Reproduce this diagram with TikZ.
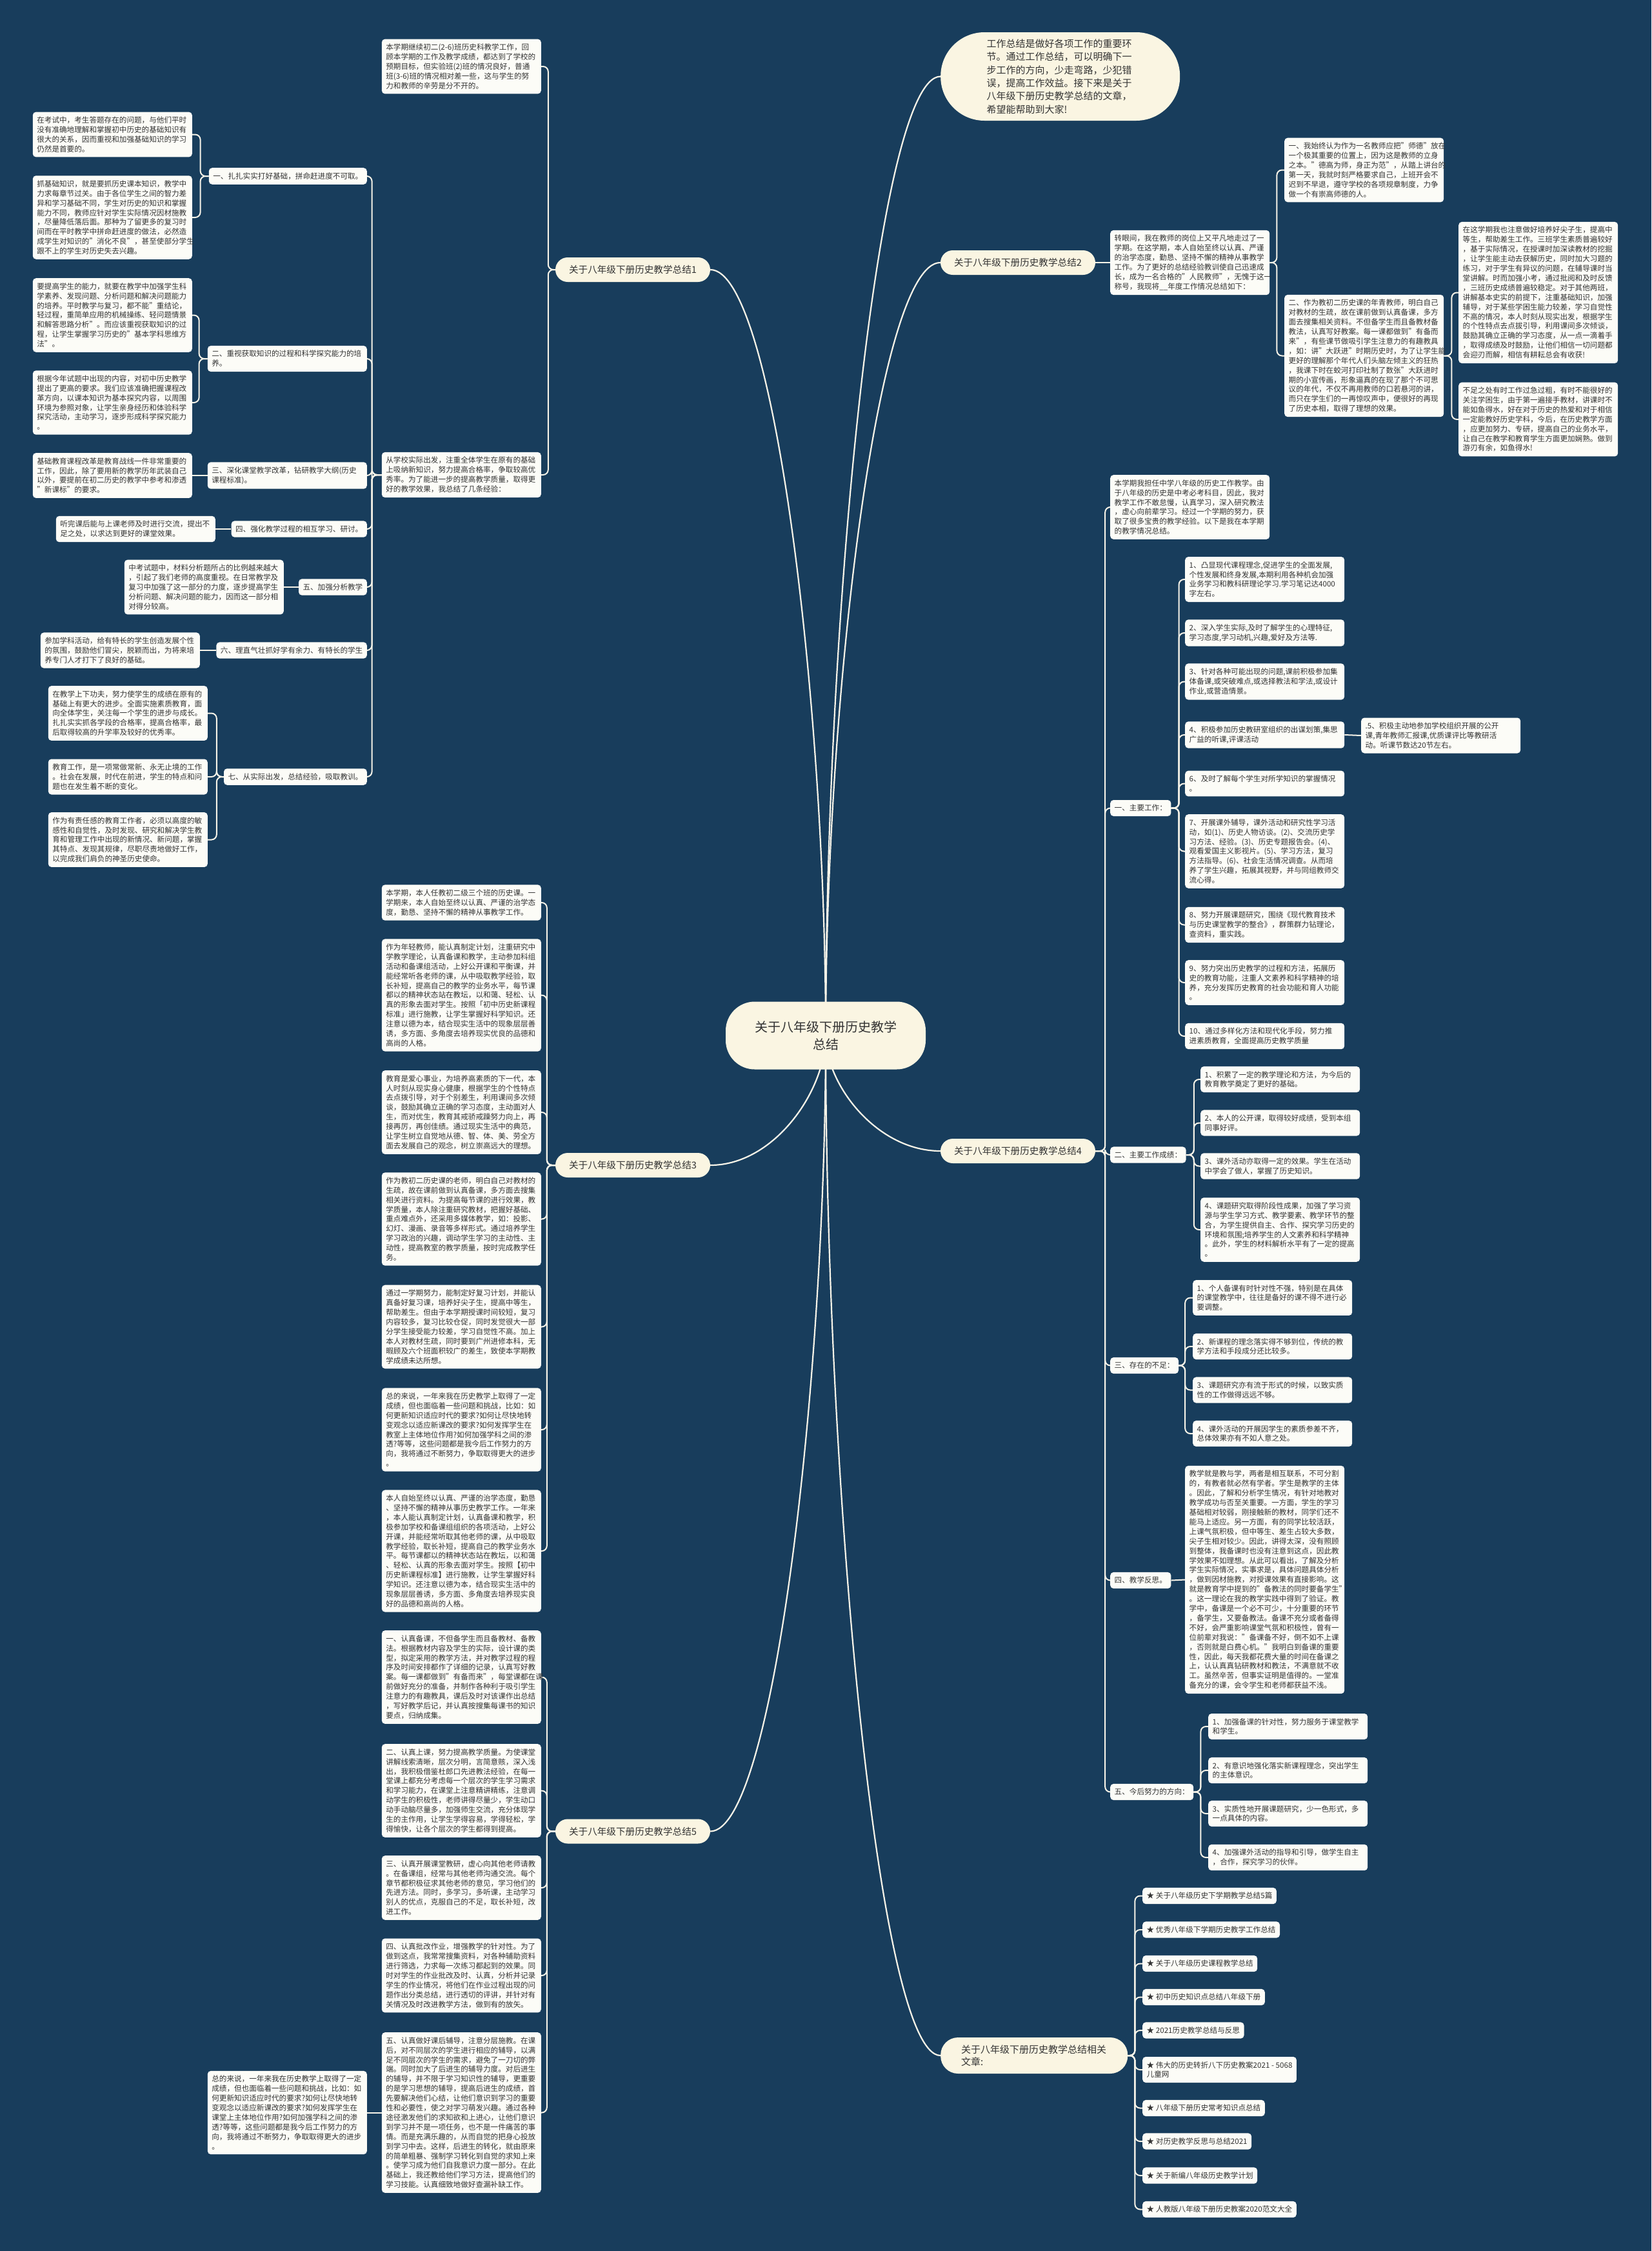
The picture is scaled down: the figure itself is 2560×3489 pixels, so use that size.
\documentclass[tikz,border=0pt]{standalone}
\usepackage{fontspec}
\setmainfont{Noto Sans CJK SC}
\definecolor{bgc}{RGB}{24,61,92}
\definecolor{boxc}{RGB}{252,252,247}
\definecolor{labc}{RGB}{250,245,226}
\definecolor{txtc}{RGB}{51,51,51}
\definecolor{linec}{RGB}{246,243,232}
\pgfdeclarelayer{bgl}
\pgfdeclarelayer{lnl}
\pgfsetlayers{bgl,lnl,main}
\tikzset{
  conn/.style={draw=linec, line width=2pt, rounded corners=8pt},
  curve/.style={draw=linec, line width=2.2pt},
  tb/.style={fill=boxc, rounded corners=5pt, text=txtc, font=\fontsize{11.6}{14.9}\selectfont, inner xsep=6.5pt, inner ysep=7.2pt, align=left},
  tbw/.style={tb, text width=234pt},
  lab/.style={fill=labc, rounded corners=19pt, text=txtc, font=\fontsize{14.6}{18}\selectfont, minimum height=38pt, minimum width=240pt, inner xsep=10pt},
  cen/.style={fill=labc, rounded corners=45pt, text=txtc, font=\fontsize{20}{27}\selectfont, minimum height=105pt, minimum width=310pt, align=center},
  bub/.style={fill=labc, text=txtc, align=left},
}
\begin{document}
\begin{tikzpicture}[x=1pt,y=-1pt]
\begin{pgfonlayer}{bgl}
\fill[bgc] (0,0) rectangle (2560,3489);
\end{pgfonlayer}
\useasboundingbox (0,0) rectangle (2560,3489);

% ---------- centre ----------
\node[cen] (cen) at (1280,1605) {关于八年级下册历史教学\\总结};

% ---------- intro bubble ----------
\node[bub, anchor=west, rounded corners=68pt, minimum width=371pt, minimum height=137pt, text width=228pt, font=\fontsize{15}{20.4}\selectfont] (intro) at (1458,118.5) {工作总结是做好各项工作的重要环\\节。通过工作总结，可以明确下一\\步工作的方向，少走弯路，少犯错\\误，提高工作效益。接下来是关于\\八年级下册历史教学总结的文章，\\希望能帮助到大家!};

% ---------- branch 1 ----------
\node[lab] (b1) at (981,418) {关于八年级下册历史教学总结1};
\node[tbw, anchor=east] (b1t1) at (839,103) {本学期继续初二(2-6)班历史科教学工作，回\\顾本学期的工作及教学成绩，都达到了学校的\\预期目标，但实验班(2)班的情况良好，普通\\班(3-6)班的情况相对差一些，这与学生的努\\力和教师的辛劳是分不开的。};
\node[tbw, anchor=east] (b1t2) at (839,736) {从学校实际出发，注重全体学生在原有的基础\\上吸纳新知识，努力提高合格率，争取较高优\\秀率。为了能进一步的提高教学质量，取得更\\好的教学效果，我总结了几条经验：};

\node[tb, anchor=east] (h11) at (569,273) {一、扎扎实实打好基础，拼命赶进度不可取。};
\node[tbw, anchor=east] (h12) at (569,556) {二、重视获取知识的过程和科学探究能力的培\\养。};
\node[tbw, anchor=east] (h13) at (569,737) {三、深化课堂教学改革，钻研教学大纲(历史\\课程标准)。};
\node[tb, anchor=east] (h14) at (569,820) {四、强化教学过程的相互学习、研讨。};
\node[tb, anchor=east] (h15) at (569,910) {五、加强分析教学};
\node[tb, anchor=east] (h16) at (569,1008) {六、理直气壮抓好学有余力、有特长的学生};
\node[tb, anchor=east] (h17) at (569,1204) {七、从实际出发，总结经验，吸取教训。};

\node[tbw, anchor=east] (l11a) at (298,208.5) {在考试中，考生答题存在的问题，与他们平时\\没有准确地理解和掌握初中历史的基础知识有\\很大的关系，因而重视和加强基础知识的学习\\仍然是首要的。};
\node[tbw, anchor=east] (l11b) at (298,337) {抓基础知识，就是要抓历史课本知识，教学中\\力求每章节过关。由于各位学生之间的智力差\\异和学习基础不同，学生对历史的知识和掌握\\能力不同，教师应针对学生实际情况因材施教\\，尽量降低落后面。那种为了留更多的复习时\\间而在平时教学中拼命赶进度的做法，必然造\\成学生对知识的"消化不良"，甚至使部分学生\\跟不上的学生对历史失去兴趣。};
\node[tbw, anchor=east] (l12a) at (298,488.5) {要提高学生的能力，就要在教学中加强学生科\\学素养、发现问题、分析问题和解决问题能力\\的培养。平时教学与复习，都不能"重结论，\\轻过程，重简单应用的机械操练、轻问题情景\\和解答思路分析"。而应该重视获取知识的过\\程，让学生掌握学习历史的"基本学科思维方\\法"。};
\node[tbw, anchor=east] (l12b) at (298,624) {根据今年试题中出现的内容，对初中历史教学\\提出了更高的要求。我们应该准确把握课程改\\革方向，以课本知识为基本探究内容，以周围\\环境为参照对象，让学生亲身经历和体验科学\\探究活动，主动学习，逐步形成科学探究能力\\。};
\node[tbw, anchor=east] (l13) at (298,737) {基础教育课程改革是教育战线一件非常重要的\\工作，因此，除了要用新的教学历年武装自己\\以外，要提前在初二历史的教学中参考和渗透\\"新课标"的要求。};
\node[tbw, anchor=east] (l14) at (334,820) {听完课后能与上课老师及时进行交流，提出不\\足之处，以求达到更好的课堂效果。};
\node[tbw, anchor=east] (l15) at (440,910) {中考试题中，材料分析题所占的比例越来越大\\，引起了我们老师的高度重视。在日常教学及\\复习中加强了这一部分的力度，逐步提高学生\\分析问题、解决问题的能力，因而这一部分相\\对得分较高。};
\node[tbw, anchor=east] (l16) at (310,1008) {参加学科活动，给有特长的学生创造发展个性\\的氛围，鼓励他们冒尖，脱颖而出，为将来培\\养专门人才打下了良好的基础。};
\node[tbw, anchor=east] (l17a) at (322,1105.5) {在教学上下功夫，努力使学生的成绩在原有的\\基础上有更大的进步。全面实施素质教育，面\\向全体学生，关注每一个学生的进步与成长。\\扎扎实实抓各学段的合格率，提高合格率，最\\后取得较高的升学率及较好的优秀率。};
\node[tbw, anchor=east] (l17b) at (322,1204) {教育工作，是一项常做常新、永无止境的工作\\。社会在发展，时代在前进，学生的特点和问\\题也在发生着不断的变化。};
\node[tbw, anchor=east] (l17c) at (322,1301.5) {作为有责任感的教育工作者，必须以高度的敏\\感性和自觉性，及时发现、研究和解决学生教\\育和管理工作中出现的新情况、新问题，掌握\\其特点、发现其规律，尽职尽责地做好工作，\\以完成我们肩负的神圣历史使命。};

% ---------- branch 2 ----------
\node[lab] (b2) at (1578,407) {关于八年级下册历史教学总结2};
\node[tbw, anchor=west] (b2t) at (1721,407) {转眼间，我在教师的岗位上又平凡地走过了一\\学期。在这学期，本人自始至终以认真、严谨\\的治学态度，勤恳、坚持不懈的精神从事教学\\工作。为了更好的总结经验教训使自己迅速成\\长，成为一名合格的"人民教师"，无愧于这一\\称号，我现将\_\_年度工作情况总结如下：};
\node[tbw, anchor=west] (b2a) at (1991,263.5) {一、我始终认为作为一名教师应把"师德"放在\\一个极其重要的位置上，因为这是教师的立身\\之本。"德高为师，身正为范"，从踏上讲台的\\第一天，我就时刻严格要求自己，上班开会不\\迟到不早退，遵守学校的各项规章制度，力争\\做一个有崇高师德的人。};
\node[tbw, anchor=west] (b2b) at (1991,551.5) {二、作为教初二历史课的年青教师，明白自己\\对教材的生疏，故在课前做到认真备课，多方\\面去搜集相关资料。不但备学生而且备教材备\\教法，认真写好教案。每一课都做到"有备而\\来"，有些课节做吸引学生注意力的有趣教具\\，如：讲"大跃进"时期历史时，为了让学生能\\更好的理解那个年代人们头脑左倾主义的狂热\\，我课下时在蛟河打印社制了数张"大跃进时\\期的小宣传画，形象逼真的在现了那个不可思\\议的年代，不仅不再用教师的口若悬河的讲，\\而只在学生们的一再惊叹声中，便很好的再现\\了历史本相，取得了理想的效果。};
\node[tbw, anchor=west] (b2b1) at (2261,453.5) {在这学期我也注意做好培养好尖子生，提高中\\等生，帮助差生工作。三班学生素质普遍较好\\，基于实际情况，在授课时加深读教材的挖掘\\，让学生能主动去获解历史，同时加大习题的\\练习，对于学生有异议的问题，在辅导课时当\\堂讲解。时而加强小考，通过批阅和及时反馈\\，三班历史成绩普遍较稳定。对于其他两班，\\讲解基本史实的前提下，注重基础知识，加强\\辅导，对于某些学困生能力较差，学习自觉性\\不高的情况，本人时刻从现实出发，根据学生\\的个性特点去点拔引导，利用课间多次倾谈，\\鼓励其确立正确的学习态度，从一点一滴着手\\，取得成绩及时鼓励，让他们相信一切问题都\\会迎刃而解，相信有耕耘总会有收获!};
\node[tbw, anchor=west] (b2b2) at (2261,650) {不足之处有时工作过急过粗，有时不能很好的\\关注学困生，由于第一遍接手教材，讲课时不\\能如鱼得水，好在对于历史的热爱和对于相信\\一定能教好历史学科，今后，在历史教学方面\\，应更加努力、专研，提高自己的业务水平，\\让自己在教学和教育学生方面更加娴熟。做到\\游刃有余，如鱼得水!};

% ---------- branch 3 ----------
\node[lab] (b3) at (981,1806) {关于八年级下册历史教学总结3};
\node[tbw, anchor=east] (c1) at (839,1399) {本学期，本人任教初二级三个班的历史课。一\\学期来，本人自始至终以认真、严谨的治学态\\度，勤恳、坚持不懈的精神从事教学工作。};
\node[tbw, anchor=east] (c2) at (839,1542.5) {作为年轻教师，能认真制定计划，注重研究中\\学教学理论，认真备课和教学，主动参加科组\\活动和备课组活动，上好公开课和平衡课，并\\能经常听各老师的课，从中吸取教学经验，取\\长补短，提高自己的教学的业务水平，每节课\\都以的精神状态站在教坛，以和蔼、轻松、认\\真的形象去面对学生。按照「初中历史新课程\\标准」进行施教，让学生掌握好科学知识。还\\注意以德为本，结合现实生活中的现象层层善\\诱，多方面、多角度去培养现实优良的品德和\\高尚的人格。};
\node[tbw, anchor=east] (c3) at (839,1724) {教育是爱心事业，为培养高素质的下一代，本\\人时刻从现实身心健康，根据学生的个性特点\\去点拨引导，对于个别差生，利用课间多次倾\\谈，鼓励其确立正确的学习态度，主动面对人\\生，而对优生，教育其戒骄戒躁努力向上，再\\接再厉，再创佳绩。通过现实生活中的典范，\\让学生树立自觉地从德、智、体、美、劳全方\\面去发展自己的观念，树立崇高远大的理想。};
\node[tbw, anchor=east] (c4) at (839,1889.5) {作为教初二历史课的老师，明白自己对教材的\\生疏，故在课前做到认真备课，多方面去搜集\\相关进行资料。为提高每节课的进行效果，教\\学质量，本人除注重研究教材，把握好基础、\\重点难点外，还采用多媒体教学，如：投影、\\幻灯、漫画、录音等多样形式。通过培养学生\\学习政治的兴趣，调动学生学习的主动性、主\\动性，提高教室的教学质量，按时完成教学任\\务。};
\node[tbw, anchor=east] (c5) at (839,2056.5) {通过一学期努力，能制定好复习计划，并能认\\真备好复习课，培养好尖子生，提高中等生，\\帮助差生。但由于本学期授课时间较短，复习\\内容较多，复习比较仓促，同时发觉很大一部\\分学生接受能力较差，学习自觉性不高。加上\\本人对教材生疏，同时要到广州进修本科，无\\暇顾及六个班面积较广的差生，致使本学期教\\学成绩未达所想。};
\node[tbw, anchor=east] (c6) at (839,2216) {总的来说，一年来我在历史教学上取得了一定\\成绩，但也面临着一些问题和挑战，比如：如\\何更新知识适应时代的要求?如何让尽快地转\\变观念以适应新课改的要求?如何发挥学生在\\教室上主体地位作用?如何加强学科之间的渗\\透?等等，这些问题都是我今后工作努力的方\\向，我将通过不断努力，争取取得更大的进步\\。};
\node[tbw, anchor=east] (c7) at (839,2404) {本人自始至终以认真、严谨的治学态度，勤恳\\、坚持不懈的精神从事历史教学工作。一年来\\，本人能认真制定计划，认真备课和教学，积\\极参加学校和备课组组织的各项活动，上好公\\开课，并能经常听取其他老师的课，从中吸取\\教学经验，取长补短，提高自己的教学业务水\\平。每节课都以的精神状态站在教坛，以和蔼\\、轻松、认真的形象去面对学生。按照【初中\\历史新课程标准】进行施教，让学生掌握好科\\学知识。还注意以德为本，结合现实生活中的\\现象层层善诱，多方面、多角度去培养现实良\\好的品德和高尚的人格。};

% ---------- branch 5 ----------
\node[lab] (b5) at (981,2838.5) {关于八年级下册历史教学总结5};
\node[tbw, anchor=east] (d1) at (839,2599.5) {一、认真备课，不但备学生而且备教材、备教\\法。根据教材内容及学生的实际，设计课的类\\型，拟定采用的教学方法，并对教学过程的程\\序及时间安排都作了详细的记录，认真写好教\\案。每一课都做到"有备而来"，每堂课都在课\\前做好充分的准备，并制作各种利于吸引学生\\注意力的有趣教具，课后及时对该课作出总结\\，写好教学后记，并认真按搜集每课书的知识\\要点，归纳成集。};
\node[tbw, anchor=east] (d2) at (839,2775.5) {二、认真上课，努力提高教学质量。为使课堂\\讲解线索清晰，层次分明，言简意赅，深入浅\\出，我积极借鉴杜郎口先进教法经验，在每一\\堂课上都充分考虑每一个层次的学生学习需求\\和学习能力，在课堂上注意精讲精练，注意调\\动学生的积极性，老师讲得尽量少，学生动口\\动手动脑尽量多，加强师生交流，充分体现学\\生的主作用，让学生学得容易，学得轻松，学\\得愉快，让各个层次的学生都得到提高。};
\node[tbw, anchor=east] (d3) at (839,2926) {三、认真开展课堂教研，虚心向其他老师请教\\。在备课组，经常与其他老师沟通交流。每个\\章节都积极征求其他老师的意见，学习他们的\\先进方法。同时，多学习，多听课，主动学习\\别人的优点，克服自己的不足，取长补短，改\\进工作。};
\node[tbw, anchor=east] (d4) at (839,3062) {四、认真批改作业，增强教学的针对性。为了\\做到这点，我常常搜集资料，对各种辅助资料\\进行筛选，力求每一次练习都起到的效果。同\\时对学生的作业批改及时、认真，分析并记录\\学生的作业情况，将他们在作业过程出现的问\\题作出分类总结，进行透切的评讲，并针对有\\关情况及时改进教学方法，做到有的放矢。};
\node[tbw, anchor=east] (d5) at (839,3274.5) {五、认真做好课后辅导，注意分层施教。在课\\后，对不同层次的学生进行相应的辅导，以满\\足不同层次的学生的需求，避免了一刀切的弊\\端。同时加大了后进生的辅导力度。对后进生\\的辅导，并不限于学习知识性的辅导，更重要\\的是学习思想的辅导，提高后进生的成绩，首\\先要解决他们心结，让他们意识到学习的重要\\性和必要性，使之对学习萌发兴趣。通过各种\\途径激发他们的求知欲和上进心，让他们意识\\到学习并不是一项任务，也不是一件痛苦的事\\情。而是充满乐趣的，从而自觉的把身心投放\\到学习中去。这样，后进生的转化，就由原来\\的简单粗暴、强制学习转化到自觉的求知上来\\。使学习成为他们自我意识力度一部分。在此\\基础上，我还教给他们学习方法，提高他们的\\学习技能。认真细致地做好查漏补缺工作。};
\node[tbw, anchor=east] (d5a) at (569,3274.5) {总的来说，一年来我在历史教学上取得了一定\\成绩，但也面临着一些问题和挑战，比如：如\\何更新知识适应时代的要求?如何让尽快地转\\变观念以适应新课改的要求?如何发挥学生在\\课堂上主体地位作用?如何加强学科之间的渗\\透?等等，这些问题都是我今后工作努力的方\\向，我将通过不断努力，争取取得更大的进步\\。};

% ---------- branch 4 ----------
\node[lab] (b4) at (1578,1784) {关于八年级下册历史教学总结4};
\node[tbw, anchor=west] (e0) at (1721,786) {本学期我担任中学八年级的历史工作教学。由\\于八年级的历史是中考必考科目，因此，我对\\教学工作不敢怠慢，认真学习，深入研究教法\\，虚心向前辈学习。经过一个学期的努力，获\\取了很多宝贵的教学经验。以下是我在本学期\\的教学情况总结。};
\node[tb, anchor=west] (e1) at (1721,1252.5) {一、主要工作：};
\node[tb, anchor=west] (e2) at (1721,1790) {二、主要工作成绩：};
\node[tb, anchor=west] (e3) at (1721,2116.5) {三、存在的不足：};
\node[tb, anchor=west] (e4) at (1721,2449.5) {四、教学反思。};
\node[tb, anchor=west] (e5) at (1721,2777.5) {五、今后努力的方向：};

\node[tbw, anchor=west] (f1) at (1837,898) {1、凸显现代课程理念,促进学生的全面发展,\\个性发展和终身发展,本期利用各种机会加强\\业务学习和教科研理论学习.学习笔记达4000\\字左右。};
\node[tbw, anchor=west] (f2) at (1837,981) {2、深入学生实际,及时了解学生的心理特征,\\学习态度,学习动机,兴趣,爱好及方法等.};
\node[tbw, anchor=west] (f3) at (1837,1056.5) {3、针对各种可能出现的问题,课前积极参加集\\体备课,或突破难点,或选择教法和学法,或设计\\作业,或营造情景。};
\node[tbw, anchor=west] (f4) at (1837,1139) {4、积极参加历史教研室组织的出谋划策,集思\\广益的听课,评课活动};
\node[tbw, anchor=west] (f45) at (2110,1140) {.5、积极主动地参加学校组织开展的公开\\课,青年教师汇报课,优质课评比等教研活\\动。听课节数达20节左右。};
\node[tbw, anchor=west] (f6) at (1837,1214.5) {6、及时了解每个学生对所学知识的掌握情况\\。};
\node[tbw, anchor=west] (f7) at (1837,1319.5) {7、开展课外辅导，课外活动和研究性学习活\\动，如(1)、历史人物访谈。(2)、交流历史学\\习方法、经验。(3)、历史专题报告会。(4)、\\观看爱国主义影视片。(5)、学习方法，复习\\方法指导。(6)、社会生活情况调查。从而培\\养了学生兴趣，拓展其视野，并与同组教师交\\流心得。};
\node[tbw, anchor=west] (f8) at (1837,1433.5) {8、努力开展课题研究，围绕《现代教育技术\\与历史课堂教学的整合》，群策群力钻理论，\\查资料，重实践。};
\node[tbw, anchor=west] (f9) at (1837,1523) {9、努力突出历史教学的过程和方法，拓展历\\史的教育功能，注重人文素养和科学精神的培\\养，充分发挥历史教育的社会功能和育人功能\\。};
\node[tbw, anchor=west] (f10) at (1837,1606) {10、通过多样化方法和现代化手段，努力推\\进素质教育，全面提高历史教学质量};

\node[tbw, anchor=west] (g1) at (1861,1673) {1、积累了一定的教学理论和方法，为今后的\\教育教学奠定了更好的基础。};
\node[tbw, anchor=west] (g2) at (1861,1740.5) {2、本人的公开课，取得较好成绩，受到本组\\同事好评。};
\node[tbw, anchor=west] (g3) at (1861,1807.5) {3、课外活动亦取得一定的效果。学生在活动\\中学会了做人，掌握了历史知识。};
\node[tbw, anchor=west] (g4) at (1861,1906) {4、课题研究取得阶段性成果，加强了学习资\\源与学生学习方式、教学要素、教学环节的整\\合，为学生提供自主、合作、探究学习历史的\\环境和氛围;培养学生的人文素养和科学精神\\。此外，学生的材料解析水平有了一定的提高\\。};

\node[tbw, anchor=west] (k1) at (1849,2011.5) {1、个人备课有时针对性不强，特别是在具体\\的课堂教学中，往往是备好的课不得不进行必\\要调整。};
\node[tbw, anchor=west] (k2) at (1849,2087) {2、新课程的理念落实得不够到位，传统的教\\学方法和手段成分还比较多。};
\node[tbw, anchor=west] (k3) at (1849,2154.5) {3、课题研究亦有流于形式的时候，以致实质\\性的工作做得远远不够。};
\node[tbw, anchor=west] (k4) at (1849,2222) {4、课外活动的开展因学生的素质参差不齐，\\总体效果亦有不如人意之处。};

\node[tbw, anchor=west] (m1) at (1837,2448.5) {教学就是教与学，两者是相互联系，不可分割\\的，有教者就必然有学者。学生是教学的主体\\。因此，了解和分析学生情况，有针对地教对\\教学成功与否至关重要。一方面，学生的学习\\基础相对较弱，刚接触新的教材，同学们还不\\能马上适应。另一方面，有的同学比较活跃，\\上课气氛积极，但中等生、差生占较大多数，\\尖子生相对较少。因此，讲得太深，没有照顾\\到整体，我备课时也没有注意到这点，因此教\\学效果不如理想。从此可以看出，了解及分析\\学生实际情况，实事求是，具体问题具体分析\\，做到因材施教，对授课效果有直接影响。这\\就是教育学中提到的"备教法的同时要备学生"\\。这一理论在我的教学实践中得到了验证。教\\学中，备课是一个必不可少，十分重要的环节\\，备学生，又要备教法。备课不充分或者备得\\不好，会严重影响课堂气氛和积极性，曾有一\\位前辈对我说："备课备不好，倒不如不上课\\，否则就是白费心机。"我明白到备课的重要\\性，因此，每天我都花费大量的时间在备课之\\上，认认真真钻研教材和教法，不满意就不收\\工。虽然辛苦，但事实证明是值得的。一堂准\\备充分的课，会令学生和老师都获益不浅。};

\node[tbw, anchor=west] (p1) at (1873,2676) {1、加强备课的针对性，努力服务于课堂教学\\和学生。};
\node[tbw, anchor=west] (p2) at (1873,2744) {2、有意识地强化落实新课程理念，突出学生\\的主体意识。};
\node[tbw, anchor=west] (p3) at (1873,2811) {3、实质性地开展课题研究，少一色形式，多\\一点具体的内容。};
\node[tbw, anchor=west] (p4) at (1873,2879) {4、加强课外活动的指导和引导，做学生自主\\，合作，探究学习的伙伴。};

% ---------- related ----------
\node[bub, anchor=west, rounded corners=27pt, minimum width=290pt, minimum height=56pt, text width=226pt, font=\fontsize{15}{19}\selectfont] (rel) at (1458,3186) {关于八年级下册历史教学总结相关\\文章:};
\node[tb, anchor=west] (r1) at (1771,2938.5) {★ 关于八年级历史下学期教学总结5篇};
\node[tb, anchor=west] (r2) at (1771,2991) {★ 优秀八年级下学期历史教学工作总结};
\node[tb, anchor=west] (r3) at (1771,3043.5) {★ 关于八年级历史课程教学总结};
\node[tb, anchor=west] (r4) at (1771,3095.5) {★ 初中历史知识点总结八年级下册};
\node[tb, anchor=west] (r5) at (1771,3147) {★ 2021历史教学总结与反思};
\node[tb, anchor=west] (r6) at (1771,3208) {★ 伟大的历史转折八下历史教案2021 - 5068\\儿童网};
\node[tb, anchor=west] (r7) at (1771,3267.5) {★ 八年级下册历史常考知识点总结};
\node[tb, anchor=west] (r8) at (1771,3319) {★ 对历史教学反思与总结2021};
\node[tb, anchor=west] (r9) at (1771,3372) {★ 关于新编八年级历史教学计划};
\node[tb, anchor=west] (r10) at (1771,3424.5) {★ 人教版八年级下册历史教案2020范文大全};

% ---------- connectors ----------
\begin{pgfonlayer}{lnl}
\draw[curve] (cen.center) .. controls (1280,1095) and (1200,418) .. (b1.east);
\draw[curve] (cen.center) .. controls (1280,1691) and (1200,1806) .. (b3.east);
\draw[curve] (cen.center) .. controls (1280,2135) and (1200,2838.5) .. (b5.east);
\draw[curve] (cen.center) .. controls (1280,966) and (1360,118.5) .. (intro.west);
\draw[curve] (cen.center) .. controls (1280,1090) and (1360,407) .. (b2.west);
\draw[curve] (cen.center) .. controls (1280,1682) and (1360,1784) .. (b4.west);
\draw[curve] (cen.center) .. controls (1280,2286) and (1360,3186) .. (rel.west);

% branch 1
\foreach \n in {b1t1,b1t2} \draw[conn] (b1.west) -- ++(-11,0) |- (\n.east);
\foreach \n in {h11,h12,h13,h14,h15,h16,h17} \draw[conn] (b1t2.west) -- ++(-15,0) |- (\n.east);
\foreach \n in {l11a,l11b} \draw[conn] (h11.west) -- ++(-13,0) |- (\n.east);
\foreach \n in {l12a,l12b} \draw[conn] (h12.west) -- ++(-13,0) |- (\n.east);
\draw[conn] (h13.west) -- (l13.east);
\draw[conn] (h14.west) -- (l14.east);
\draw[conn] (h15.west) -- (l15.east);
\draw[conn] (h16.west) -- (l16.east);
\foreach \n in {l17a,l17b,l17c} \draw[conn] (h17.west) -- ++(-11,0) |- (\n.east);

% branch 2
\draw[conn] (b2.east) -- (b2t.west);
\foreach \n in {b2a,b2b} \draw[conn] (b2t.east) -- ++(11,0) |- (\n.west);
\foreach \n in {b2b1,b2b2} \draw[conn] (b2b.east) -- ++(12,0) |- (\n.west);

% branch 3
\foreach \n in {c1,c2,c3,c4,c5,c6,c7} \draw[conn] (b3.west) -- ++(-13,0) |- (\n.east);

% branch 5
\foreach \n in {d1,d2,d3,d4,d5} \draw[conn] (b5.west) -- ++(-13,0) |- (\n.east);
\draw[conn] (d5.west) -- (d5a.east);

% branch 4
\foreach \n in {e0,e1,e2,e3,e4,e5} \draw[conn] (b4.east) -- ++(15,0) |- (\n.west);
\foreach \n in {f1,f2,f3,f4,f6,f7,f8,f9,f10} \draw[conn] (e1.east) -- ++(12,0) |- (\n.west);
\draw[conn] (f4.east) -- (f45.west);
\foreach \n in {g1,g2,g3,g4} \draw[conn] (e2.east) -- ++(12,0) |- (\n.west);
\foreach \n in {k1,k2,k3,k4} \draw[conn] (e3.east) -- ++(10,0) |- (\n.west);
\draw[conn] (e4.east) -- (m1.west);
\foreach \n in {p1,p2,p3,p4} \draw[conn] (e5.east) -- ++(11,0) |- (\n.west);

% related
\foreach \n in {r1,r2,r3,r4,r5,r6,r7,r8,r9,r10} \draw[conn] (rel.east) -- ++(11,0) |- (\n.west);
\end{pgfonlayer}
\end{tikzpicture}
\end{document}
